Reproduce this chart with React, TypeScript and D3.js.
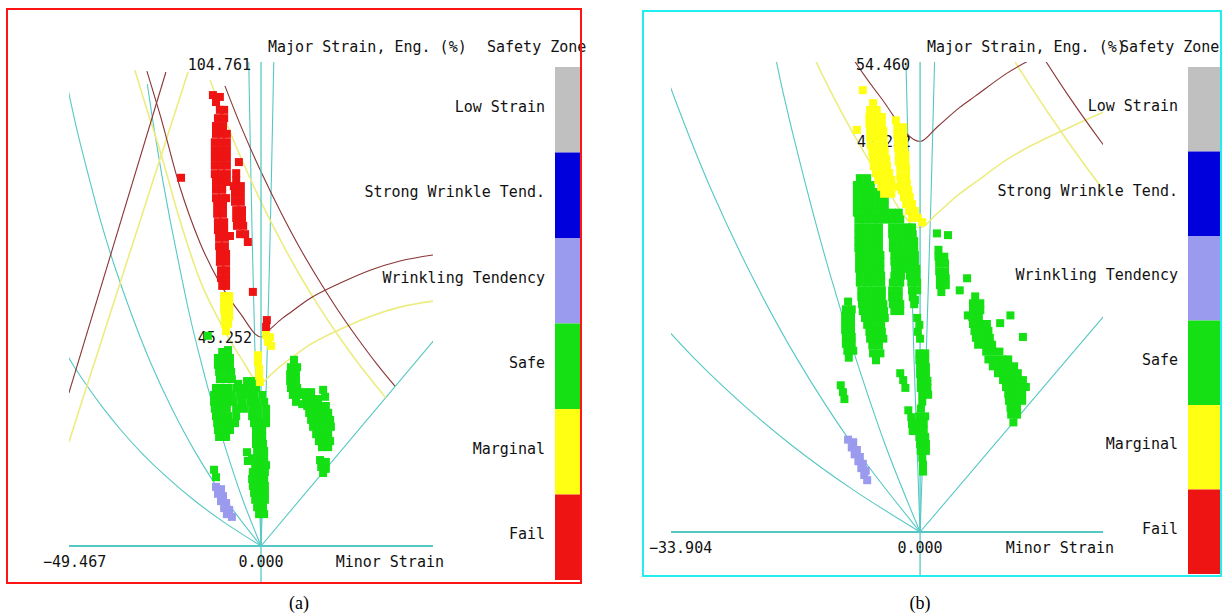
import React from "react";
import * as d3 from "d3";

type Pt = [number, number]; // [minor strain %, major strain %] (engineering)

// ---------- safety zones (legend, top to bottom) ----------
const zoneNames = ["Low Strain", "Strong Wrinkle Tend.", "Wrinkling Tendency", "Safe", "Marginal", "Fail"];
const zoneColors = ["#c0c0c0", "#0000dd", "#9a9aee", "#14e014", "#ffff14", "#ee1414"];

// ---------- axis values ----------
const minorMin = [-49.467, -33.904];
const minorMax = [44.3, 24.9];
const majorMax = [104.761, 54.46];
const flc0 = 45.252;
const fmt = d3.format(".3f");

// ---------- material limit curves (shared by both panels) ----------
const flc: Pt[] = [
  [-29.4, 102.8], [-26.0, 93.3], [-20.9, 77.7], [-15.7, 65.6], [-10.6, 56.9], [-5.4, 50.4], [0, 45.25],
  [2.3, 46.9], [5.4, 49.2], [7.5, 50.5], [11.9, 53.2], [20.4, 56.9], [28.1, 59.7], [35.8, 61.7], [44.3, 63.0],
];
const flcMargin: Pt[] = [
  [-32.5, 103.0], [-29.4, 94.5], [-26.0, 85.5], [-20.9, 70.5], [-15.7, 57.5], [-10.6, 48.5], [-5.4, 41.0], [0, 35.25],
  [2.3, 36.9], [5.4, 39.2], [7.5, 40.5], [11.9, 43.2], [20.4, 46.9], [28.1, 49.7], [35.8, 51.7], [44.3, 53.0],
];
const thinningLimit: Pt[] = [
  [-9.3, 99.6], [-5, 90.5], [0, 81.0], [5, 72.4], [10, 64.5], [15, 57.4], [20, 50.8], [25, 44.8], [30, 39.2], [34.5, 34.6],
];
const thinningMargin: Pt[] = [
  [-13.1, 100.8], [-10, 93.9], [-5, 83.7], [0, 74.5], [5, 66.2], [10, 58.6], [15, 51.7], [20, 45.4], [25, 39.6], [32.1, 32.1],
];
const wrinkleLimit: Pt[] = [[-49.5, 33.1], [-24.5, 102.6]];
const wrinkleMargin: Pt[] = [[-49.5, 22.5], [-18.8, 102.6]];

// ---------- strain path reference lines ----------
const pathCompression: Pt[] = [
  [0, 0], [-9.3, 5], [-17.4, 10], [-24.4, 15], [-30.6, 20], [-36.0, 25], [-40.8, 30], [-45.1, 35], [-49.0, 40], [-52.4, 45],
];
const pathShear: Pt[] = [
  [0, 0], [-9.1, 10], [-16.7, 20], [-23.1, 30], [-28.6, 40], [-33.3, 50], [-37.5, 60], [-41.2, 70], [-44.4, 80], [-47.4, 90], [-50.0, 100],
];
const pathUniaxial: Pt[] = [
  [0, 0], [-4.7, 10], [-8.7, 20], [-12.3, 30], [-15.5, 40], [-18.4, 50], [-20.9, 60], [-23.3, 70], [-25.5, 80], [-27.5, 90], [-29.3, 100],
];
const pathPlaneLeft: Pt[] = [[0, 0], [-0.82, 20], [-1.5, 40], [-2.09, 60], [-2.61, 80], [-3.17, 104.76]];
const pathPlaneRight: Pt[] = [[0, 0], [0.82, 20], [1.53, 40], [2.14, 60], [2.68, 80], [3.28, 104.76]];
const pathBiaxial: Pt[] = [[0, 0], [45, 45]];

// ---------- measured points, panel (a) ----------
const failA: Pt[] = [
  [-12.4, 97.6], [-10.6, 97.2], [-11.6, 96.1],
  [-10.6, 94.4], [-9.5, 94.4], [-11.1, 92.6], [-9.5, 92.6], [-11.6, 90.9], [-9.8, 90.9],
  [-11.6, 89.2], [-10.0, 89.2], [-8.8, 89.2], [-11.9, 87.4], [-10.3, 87.4], [-8.8, 87.4],
  [-11.9, 85.7], [-10.3, 85.7], [-8.8, 85.7], [-11.9, 84.0], [-10.3, 84.0], [-8.8, 84.0],
  [-11.9, 82.3], [-10.3, 82.3], [-8.8, 82.3], [-11.9, 80.5], [-10.3, 80.5], [-8.8, 80.5],
  [-11.6, 78.8], [-10.0, 78.8], [-8.8, 78.8], [-11.6, 77.1], [-10.0, 77.1],
  [-11.6, 75.3], [-10.0, 75.3], [-9.0, 75.3], [-11.3, 73.6], [-9.8, 73.6], [-11.3, 71.9], [-9.8, 71.9],
  [-11.1, 70.1], [-9.5, 70.1], [-11.1, 68.4], [-9.5, 68.4], [-10.8, 66.7], [-9.3, 66.7],
  [-10.8, 64.9], [-9.3, 64.9], [-10.6, 63.2], [-9.0, 63.2], [-10.6, 61.5], [-9.0, 61.5],
  [-10.3, 59.7], [-9.0, 59.7], [-10.3, 58.0], [-9.0, 58.0], [-10.0, 56.3], [-9.0, 56.3],
  [-6.4, 79.2], [-7.0, 77.9], [-5.2, 77.9], [-6.7, 76.2], [-5.2, 76.2], [-6.7, 74.5], [-5.2, 74.5],
  [-6.4, 72.7], [-4.9, 72.7], [-6.4, 71.0], [-4.9, 71.0], [-6.2, 69.3], [-4.6, 69.3],
  [-5.4, 67.5], [-4.1, 67.5], [-3.4, 65.8],
  [-5.7, 83.1], [-6.4, 80.7], [-20.6, 79.7], [-8.0, 67.1], [-2.1, 55.0], [1.5, 48.9], [1.3, 47.4],
];
const marginalA: Pt[] = [
  [-9.5, 54.1], [-8.2, 54.1], [-9.5, 52.6], [-8.2, 52.6], [-9.5, 51.1], [-8.2, 51.1],
  [-9.3, 49.6], [-8.2, 49.6], [-9.3, 48.1], [-8.5, 48.1], [-9.0, 46.5],
  [1.3, 45.7], [2.3, 45.2], [1.8, 44.2], [2.6, 43.3],
  [-0.8, 41.3], [-0.8, 39.8], [-0.5, 38.3], [-0.5, 36.8], [-0.3, 35.5],
];
const safeA: Pt[] = [
  [-13.7, 45.5],
  [-10.0, 42.0], [-8.5, 42.4],
  [-11.1, 40.7], [-9.5, 40.7], [-8.0, 40.7], [-11.1, 39.2], [-9.5, 39.2], [-8.0, 39.2],
  [-10.8, 37.7], [-9.3, 37.7], [-7.7, 37.7], [-10.6, 36.1], [-9.0, 36.1], [-7.5, 36.1],
  [-5.9, 35.1], [-3.6, 35.7], [-2.1, 35.7],
  [-11.6, 34.2], [-10.0, 34.2], [-8.5, 34.2], [-6.4, 34.2], [-4.4, 34.2], [-2.8, 34.2], [-1.3, 34.2],
  [-12.1, 32.7], [-10.6, 32.7], [-9.0, 32.7], [-7.5, 32.7], [-5.4, 32.7], [-3.4, 32.7], [-1.8, 32.7], [0.3, 32.7],
  [-12.1, 31.2], [-10.6, 31.2], [-9.0, 31.2], [-7.0, 31.2], [-4.9, 31.2], [-2.8, 31.2], [-1.3, 31.2], [0.8, 31.2],
  [-11.9, 29.7], [-10.3, 29.7], [-8.8, 29.7], [-6.4, 29.7], [-4.4, 29.7], [-2.3, 29.7], [-0.8, 29.7], [1.3, 29.7],
  [-11.6, 28.1], [-10.0, 28.1], [-8.5, 28.1], [-6.4, 28.1], [-2.3, 28.1], [-0.8, 28.1], [1.3, 28.1],
  [-11.3, 26.6], [-9.8, 26.6], [-8.2, 26.6], [-6.7, 26.6], [-1.8, 26.6], [-0.3, 26.6], [1.3, 26.6],
  [-11.1, 25.1], [-9.5, 25.1], [-8.0, 25.1], [-1.3, 25.1], [0.3, 25.1],
  [-10.8, 23.6], [-9.0, 23.6], [-1.3, 23.6], [0.3, 23.6],
  [-3.6, 20.3], [-2.3, 19.0], [-3.4, 18.4],
  [-1.3, 22.1], [0.5, 22.1], [-1.0, 20.6], [0.8, 20.6], [-0.8, 19.0], [0.8, 19.0],
  [-1.5, 17.5], [0, 17.5], [1.3, 17.5], [-2.1, 16.0], [-0.5, 16.0], [1.0, 16.0],
  [-2.3, 14.5], [-0.8, 14.5], [0.8, 14.5], [-2.1, 13.0], [-0.5, 13.0], [1.0, 13.0],
  [-1.8, 11.5], [-0.3, 11.5], [1.0, 11.5], [-1.5, 10.0], [0, 10.0], [1.0, 10.0],
  [-1.0, 8.4], [0.5, 8.4], [-0.5, 6.9], [0.8, 6.9],
  [-12.1, 16.5], [-11.6, 14.9],
  [8.5, 40.3], [7.7, 38.7], [9.3, 38.7], [7.5, 37.2], [9.0, 37.2], [7.5, 35.7], [9.0, 35.7],
  [7.7, 34.2], [9.3, 34.2], [8.2, 32.7], [9.8, 32.7], [9.0, 31.2], [10.6, 30.7],
  [11.3, 33.3], [12.9, 33.3], [16.0, 33.8],
  [11.6, 31.8], [13.1, 31.8], [14.7, 31.8], [16.5, 32.3],
  [11.9, 30.3], [13.4, 30.3], [14.9, 30.3], [16.7, 30.3],
  [12.4, 28.8], [13.9, 28.8], [15.5, 28.8], [17.3, 28.8],
  [12.9, 27.3], [14.4, 27.3], [16.0, 27.3], [17.8, 27.3],
  [13.4, 25.8], [14.9, 25.8], [16.5, 25.8], [18.0, 25.8],
  [14.2, 24.2], [15.7, 24.2], [17.3, 24.2], [14.9, 22.7], [16.5, 22.7], [17.8, 22.7],
  [15.7, 21.4], [17.3, 21.4],
  [15.2, 18.6], [16.7, 18.2], [15.5, 17.1], [16.7, 16.7], [16.0, 15.8],
];
const wrinkleA: Pt[] = [
  [-11.6, 12.8], [-10.3, 12.3], [-11.1, 11.3], [-9.8, 10.8], [-10.3, 9.7],
  [-9.0, 9.3], [-9.5, 8.2], [-8.2, 7.8], [-8.8, 6.9], [-7.5, 6.3],
];

// ---------- measured points, panel (b) ----------
const failB: Pt[] = [];
const marginalB: Pt[] = [
  [-7.8, 51.2], [-8.6, 46.6], [-6.4, 49.7], [-6.8, 48.9], [-5.9, 48.9],
  [-6.9, 48.1], [-6.0, 48.1], [-5.2, 48.1], [-6.9, 47.3], [-6.0, 47.3], [-5.2, 47.3],
  [-6.8, 46.5], [-5.9, 46.5], [-5.0, 46.5], [-6.8, 45.7], [-5.9, 45.7], [-5.0, 45.7],
  [-6.7, 44.8], [-5.7, 44.8], [-4.9, 44.8], [-6.5, 44.0], [-5.6, 44.0], [-4.8, 44.0],
  [-6.4, 43.2], [-5.4, 43.2], [-4.6, 43.2], [-6.3, 42.4], [-5.3, 42.4], [-4.5, 42.4],
  [-6.0, 41.6], [-5.0, 41.6], [-4.2, 41.6], [-5.7, 40.8], [-4.8, 40.8], [-3.9, 40.8],
  [-5.3, 40.0], [-4.4, 40.0], [-3.5, 40.0], [-4.9, 39.2], [-3.9, 39.2],
  [-3.3, 47.7], [-3.1, 46.9], [-2.3, 46.9], [-3.1, 46.1], [-2.3, 46.1], [-3.0, 45.3], [-2.2, 45.3],
  [-3.0, 44.5], [-2.2, 44.5], [-2.9, 43.7], [-2.0, 43.7], [-2.9, 42.9], [-2.0, 42.9],
  [-2.7, 42.1], [-1.9, 42.1], [-2.7, 41.2], [-1.9, 41.2], [-2.6, 40.4], [-1.8, 40.4],
  [-2.5, 39.6], [-1.6, 39.6], [-2.2, 38.8], [-1.4, 38.8], [-1.9, 38.0], [-1.1, 38.0],
  [-1.5, 37.2], [-0.7, 37.2], [-1.1, 36.4], [-0.3, 36.4], [0.3, 35.9],
];
const safeB: Pt[] = [
  [-8.2, 41.0], [-7.2, 41.0],
  [-8.6, 40.2], [-7.6, 40.2], [-6.7, 40.2],
  [-8.6, 39.4], [-7.6, 39.4], [-6.7, 39.4], [-5.7, 39.4],
  [-8.6, 38.6], [-7.6, 38.6], [-6.7, 38.6], [-5.7, 38.6], [-4.8, 38.6],
  [-8.6, 37.8], [-7.6, 37.8], [-6.7, 37.8], [-5.7, 37.8], [-4.8, 37.8],
  [-8.6, 37.0], [-7.6, 37.0], [-6.7, 37.0], [-5.7, 37.0], [-4.8, 37.0],
  [-8.4, 36.2], [-7.5, 36.2], [-6.5, 36.2], [-5.6, 36.2], [-4.6, 36.2],
  [-8.4, 35.3], [-7.5, 35.3], [-6.5, 35.3], [-5.6, 35.3],
  [-8.4, 34.5], [-7.5, 34.5], [-6.5, 34.5], [-5.6, 34.5],
  [-8.4, 33.7], [-7.5, 33.7], [-6.5, 33.7], [-5.6, 33.7],
  [-8.4, 32.9], [-7.5, 32.9], [-6.5, 32.9], [-5.6, 32.9],
  [-8.3, 32.1], [-7.4, 32.1], [-6.4, 32.1], [-5.4, 32.1],
  [-8.3, 31.3], [-7.4, 31.3], [-6.4, 31.3], [-5.4, 31.3],
  [-8.3, 30.5], [-7.4, 30.5], [-6.4, 30.5], [-5.4, 30.5],
  [-8.2, 29.7], [-7.2, 29.7], [-6.3, 29.7], [-5.3, 29.7],
  [-8.2, 28.9], [-7.2, 28.9], [-6.3, 28.9], [-5.3, 28.9],
  [-8.0, 28.0], [-7.1, 28.0], [-6.1, 28.0], [-5.2, 28.0],
  [-8.0, 27.2], [-7.1, 27.2], [-6.1, 27.2], [-5.2, 27.2],
  [-7.9, 26.4], [-6.9, 26.4], [-6.0, 26.4], [-5.0, 26.4],
  [-7.8, 25.6], [-6.8, 25.6], [-5.9, 25.6], [-4.9, 25.6],
  [-7.5, 24.8], [-6.5, 24.8], [-5.6, 24.8], [-4.8, 24.8],
  [-7.2, 24.0], [-6.3, 24.0], [-5.3, 24.0],
  [-6.9, 23.2], [-6.0, 23.2], [-5.2, 23.2],
  [-6.8, 22.4], [-5.9, 22.4], [-5.0, 22.4],
  [-6.5, 21.6], [-5.6, 21.6], [-6.4, 20.7], [-5.4, 20.7], [-6.0, 19.9],
  [-3.8, 37.0], [-2.9, 37.0], [-3.7, 36.2], [-2.7, 36.2],
  [-3.8, 35.3], [-2.9, 35.3], [-1.9, 35.3], [-1.1, 35.3],
  [-3.8, 34.5], [-2.9, 34.5], [-1.9, 34.5], [-1.0, 34.5],
  [-3.7, 33.7], [-2.7, 33.7], [-1.8, 33.7], [-0.8, 33.7],
  [-3.7, 32.9], [-2.7, 32.9], [-1.8, 32.9], [-0.8, 32.9],
  [-3.5, 32.1], [-2.6, 32.1], [-1.6, 32.1], [-0.7, 32.1],
  [-3.5, 31.3], [-2.6, 31.3], [-1.6, 31.3], [-0.7, 31.3],
  [-3.4, 30.5], [-2.5, 30.5], [-1.5, 30.5], [-0.5, 30.5],
  [-3.5, 29.7], [-2.6, 29.7], [-1.4, 29.7], [-0.5, 29.7],
  [-3.7, 28.9], [-2.7, 28.9], [-1.2, 28.9], [-0.4, 28.9],
  [-3.8, 28.0], [-2.9, 28.0], [-1.1, 28.0], [-0.4, 28.0],
  [-3.8, 27.2], [-2.9, 27.2], [-1.0, 27.2],
  [-3.7, 26.4], [-2.7, 26.4], [-0.8, 26.4], [-3.5, 25.6], [-2.7, 25.6],
  [-9.8, 26.7], [-10.1, 25.8], [-9.3, 25.8], [-10.2, 25.0], [-9.4, 25.0], [-10.2, 24.2], [-9.4, 24.2],
  [-10.2, 23.4], [-9.4, 23.4], [-10.1, 22.6], [-9.3, 22.6], [-10.1, 21.8], [-9.3, 21.8],
  [-9.9, 21.0], [-9.1, 21.0], [-9.7, 20.2],
  [-10.8, 17.0], [-10.5, 16.2], [-10.3, 15.4],
  [-0.7, 26.9], [-0.4, 24.8], [-0.1, 24.0], [-0.3, 23.2], [0, 22.4],
  [-0.1, 20.7], [0.7, 20.7], [-0.1, 19.9], [0.7, 19.9], [0, 19.1], [0.8, 19.1], [0, 18.3], [0.8, 18.3],
  [0.1, 17.5], [1.0, 17.5], [0.1, 16.7], [1.0, 16.7], [0.3, 15.9], [1.1, 15.9], [0.3, 15.1], [0.1, 14.3],
  [-0.1, 13.4], [0.7, 13.4], [-0.3, 12.6], [0.5, 12.6], [-0.3, 11.8], [0.5, 11.8],
  [-0.1, 11.0], [0.7, 11.0], [0, 10.2], [0.8, 10.2], [0.1, 9.4], [0.8, 9.4], [0.3, 8.6], [0.4, 7.8], [0.4, 7.0],
  [-2.7, 18.4], [-2.3, 17.6], [-2.0, 16.7],
  [-1.6, 14.1], [-1.2, 13.3], [-1.1, 12.5], [-1.0, 11.7],
  [2.3, 34.6], [3.8, 34.4], [2.5, 32.7], [2.5, 31.9], [3.3, 31.9], [2.6, 31.1], [3.4, 31.1],
  [2.6, 30.2], [3.4, 30.2], [2.7, 29.4], [3.5, 29.4], [2.7, 28.6], [3.5, 28.6], [2.9, 27.8],
  [6.4, 29.4], [5.4, 28.0], [6.5, 25.1], [10.9, 24.2], [12.3, 25.1], [14.0, 22.6],
  [7.5, 27.3], [7.2, 26.5], [8.2, 26.5], [7.2, 25.7], [8.2, 25.7], [7.1, 24.9], [8.0, 24.9],
  [7.2, 24.1], [8.2, 24.1], [9.1, 24.1], [7.4, 23.3], [8.3, 23.3], [9.3, 23.3],
  [7.6, 22.5], [8.6, 22.5], [9.5, 22.5], [7.9, 21.7], [8.9, 21.7], [9.8, 21.7],
  [9.0, 20.9], [9.9, 20.9], [10.8, 20.9], [9.3, 20.0], [10.2, 20.0], [11.2, 20.0], [12.0, 20.0],
  [9.9, 19.2], [10.9, 19.2], [11.8, 19.2], [12.8, 19.2], [10.6, 18.4], [11.6, 18.4], [12.5, 18.4], [13.3, 18.4],
  [11.3, 17.6], [12.3, 17.6], [13.2, 17.6], [14.0, 17.6], [11.7, 16.8], [12.7, 16.8], [13.6, 16.8], [14.4, 16.8],
  [12.0, 16.0], [12.9, 16.0], [13.9, 16.0], [12.1, 15.2], [13.1, 15.2], [13.9, 15.2],
  [12.3, 14.4], [13.2, 14.4], [12.4, 13.6], [13.2, 13.6], [12.7, 12.7],
];
const wrinkleB: Pt[] = [
  [-9.8, 10.7], [-9.1, 10.4], [-9.3, 9.8], [-8.6, 9.5], [-8.9, 9.0], [-8.2, 8.7],
  [-8.4, 8.2], [-7.8, 7.9], [-8.0, 7.4], [-7.4, 7.1], [-7.6, 6.6], [-7.2, 6.0],
];

// ---------- layout ----------
const FONT = "'DejaVu Sans Mono', 'Liberation Mono', monospace";
const panels = [
  {
    key: "a", caption: "(a)", captionX: 299,
    frame: { x0: 7, y0: 9, x1: 581, y1: 583 }, frameColor: "#ff1414",
    plot: { left: 69, right: 433, top: 62, bottom: 546 },
    legend: { x0: 555, x1: 581, y0: 67, y1: 580 },
    minLabelX: 43, sq: 8,
    xMin: minorMin[0], xMax: minorMax[0], yMax: majorMax[0],
    fail: failA, marginal: marginalA, safe: safeA, wrinkle: wrinkleA,
  },
  {
    key: "b", caption: "(b)", captionX: 920,
    frame: { x0: 643, y0: 11, x1: 1221, y1: 576 }, frameColor: "#22eeee",
    plot: { left: 671, right: 1103, top: 62, bottom: 532 },
    legend: { x0: 1188, x1: 1220, y0: 67, y1: 574 },
    minLabelX: 649, sq: 8,
    xMin: minorMin[1], xMax: minorMax[1], yMax: majorMax[1],
    fail: failB, marginal: marginalB, safe: safeB, wrinkle: wrinkleB,
  },
];

const CYAN = "#56c8c4";
const BROWN = "#8a3434";
const PALE_YELLOW = "#ecec80";

function Panel({ p }: { p: (typeof panels)[number] }) {
  const x = d3.scaleLinear().domain([p.xMin, p.xMax]).range([p.plot.left, p.plot.right]);
  const y = d3.scaleLinear().domain([0, p.yMax]).range([p.plot.bottom, p.plot.top]);
  // smooth strain paths and hyperbolic thinning lines
  const smooth = d3
    .line<Pt>()
    .x((d) => x(d[0]))
    .y((d) => y(d[1]))
    .curve(d3.curveCatmullRom.alpha(0.5));
  // forming limit curves keep their sharp corner at plane strain
  const limit = d3
    .line<Pt>()
    .x((d) => x(d[0]))
    .y((d) => y(d[1]))
    .curve(d3.curveMonotoneX);
  const clipId = `plot-clip-${p.key}`;
  const band = (p.legend.y1 - p.legend.y0) / zoneNames.length;
  const sq = p.sq;

  const squares = (pts: Pt[], color: string, k: string) =>
    pts.map((d, i) => (
      <rect key={`${k}${i}`} x={x(d[0]) - sq / 2} y={y(d[1]) - sq / 2} width={sq} height={sq} fill={color} />
    ));

  const cyanPaths = [pathCompression, pathShear, pathUniaxial, pathPlaneLeft, pathPlaneRight, pathBiaxial];

  return (
    <g>
      <defs>
        <clipPath id={clipId}>
          <rect x={x(p.xMin)} y={y(p.yMax)} width={x(p.xMax) - x(p.xMin)} height={y(0) - y(p.yMax)} />
        </clipPath>
      </defs>

      {/* reference curves */}
      <g clipPath={`url(#${clipId})`} fill="none">
        {cyanPaths.map((c, i) => (
          <path key={`c${i}`} d={smooth(c) ?? ""} stroke={CYAN} strokeWidth={1.1} />
        ))}
        <path d={smooth(wrinkleMargin) ?? ""} stroke={PALE_YELLOW} strokeWidth={1.6} />
        <path d={limit(flcMargin) ?? ""} stroke={PALE_YELLOW} strokeWidth={1.6} />
        <path d={smooth(thinningMargin) ?? ""} stroke={PALE_YELLOW} strokeWidth={1.6} />
        <path d={smooth(wrinkleLimit) ?? ""} stroke={BROWN} strokeWidth={1.1} />
        <path d={limit(flc) ?? ""} stroke={BROWN} strokeWidth={1.1} />
        <path d={smooth(thinningLimit) ?? ""} stroke={BROWN} strokeWidth={1.1} />
      </g>

      {/* axes */}
      <line x1={x(p.xMin)} x2={x(p.xMax)} y1={y(0)} y2={y(0)} stroke={CYAN} strokeWidth={2} />
      <line x1={x(0)} x2={x(0)} y1={y(p.yMax)} y2={p.frame.y1} stroke={CYAN} strokeWidth={1.3} />

      {/* value labels */}
      <g fontFamily={FONT} fontSize={15} fill="#111">
        <text x={x(0) - 10} y={y(p.yMax) + 8} textAnchor="end">{fmt(p.yMax)}</text>
        <text x={x(0) - 9} y={y(flc0) + 6} textAnchor="end">{fmt(flc0)}</text>
        <text x={p.minLabelX} y={y(0) + 21}>{fmt(p.xMin)}</text>
        <text x={x(0)} y={y(0) + 21} textAnchor="middle">{fmt(0)}</text>
        <text x={x(p.xMax) + 11} y={y(0) + 21} textAnchor="end">Minor Strain</text>
        <text x={x(0) + 7} y={52}>Major Strain, Eng. (%)</text>
        <text x={p.legend.x0 - 68} y={52}>Safety Zone</text>
      </g>

      {/* measured points */}
      {squares(p.wrinkle, zoneColors[2], "w")}
      {squares(p.safe, zoneColors[3], "s")}
      {squares(p.marginal, zoneColors[4], "m")}
      {squares(p.fail, zoneColors[5], "f")}

      {/* safety zone legend */}
      {zoneNames.map((name, i) => (
        <g key={name}>
          <rect x={p.legend.x0} y={p.legend.y0 + i * band} width={p.legend.x1 - p.legend.x0} height={band} fill={zoneColors[i]} />
          <text
            x={p.legend.x0 - 10}
            y={p.legend.y0 + i * band + band / 2 + 2}
            textAnchor="end"
            fontFamily={FONT}
            fontSize={15}
            fill="#111"
          >
            {name}
          </text>
        </g>
      ))}

      {/* frame */}
      <rect
        x={p.frame.x0}
        y={p.frame.y0}
        width={p.frame.x1 - p.frame.x0}
        height={p.frame.y1 - p.frame.y0}
        fill="none"
        stroke={p.frameColor}
        strokeWidth={2}
      />
      <text x={p.captionX} y={609} textAnchor="middle" fontFamily="'Liberation Serif', 'Times New Roman', serif" fontSize={18} fill="#000">
        {p.caption}
      </text>
    </g>
  );
}

export default function App() {
  return (
    <svg
      width={1223}
      height={616}
      viewBox="0 0 1223 616"
      style={{ position: "absolute", left: 0, top: 0, background: "#fff" }}
    >
      <rect x={0} y={0} width={1223} height={616} fill="#fff" />
      {panels.map((p) => (
        <Panel key={p.key} p={p} />
      ))}
    </svg>
  );
}
